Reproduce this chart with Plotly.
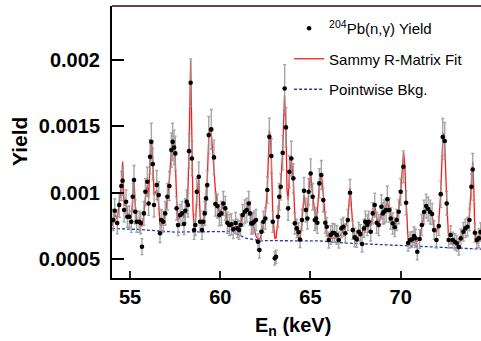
import numpy as np
import plotly.graph_objects as go

# ---- data (energy in keV, yields in units of 1e-3) ----
energy = [
    54.07, 54.15, 54.29, 54.40, 54.52, 54.59, 54.67, 54.78, 54.85, 54.96,
    55.07, 55.15, 55.22, 55.29, 55.37, 55.51, 55.59, 55.66, 55.77, 55.85,
    55.96, 56.03, 56.11, 56.18, 56.26, 56.33, 56.48, 56.59, 56.66, 56.73,
    56.84, 56.95, 57.07, 57.18, 57.29, 57.36, 57.44, 57.51, 57.58, 57.66,
    57.77, 57.88, 57.99, 58.06, 58.14, 58.21, 58.27, 58.36, 58.43, 58.55,
    58.62, 58.70, 58.81, 58.88, 58.99, 59.06, 59.14, 59.21, 59.28, 59.36,
    59.50, 59.65, 59.73, 59.84, 59.95, 60.06, 60.17, 60.28, 60.39, 60.50,
    60.61, 60.72, 60.85, 60.95, 61.04, 61.13, 61.24, 61.36, 61.47, 61.58,
    61.65, 61.72, 61.80, 61.87, 61.98, 62.09, 62.17, 62.28, 62.39, 62.50,
    62.61, 62.72, 62.83, 62.91, 63.02, 63.09, 63.20, 63.27, 63.35, 63.46,
    63.57, 63.64, 63.76, 63.83, 63.94, 64.05, 64.13, 64.24, 64.34, 64.42,
    64.53, 64.64, 64.75, 64.83, 64.90, 65.01, 65.12, 65.24, 65.31, 65.38,
    65.49, 65.60, 65.71, 65.82, 65.90, 66.01, 66.12, 66.23, 66.34, 66.46,
    66.57, 66.71, 66.82, 66.93, 67.07, 67.19, 67.34, 67.45, 67.56, 67.67,
    67.77, 67.86, 67.97, 68.04, 68.15, 68.23, 68.34, 68.45, 68.56, 68.67,
    68.78, 68.93, 69.01, 69.08, 69.19, 69.26, 69.37, 69.45, 69.56, 69.67,
    69.78, 69.89, 70.00, 70.15, 70.30, 70.41, 70.52, 70.63, 70.74, 70.82,
    70.92, 71.05, 71.17, 71.29, 71.41, 71.52, 71.63, 71.74, 71.85, 71.98,
    72.11, 72.22, 72.33, 72.44, 72.55, 72.66, 72.77, 72.89, 73.00, 73.11,
    73.22, 73.33, 73.47, 73.58, 73.70, 73.81, 73.92, 73.99, 74.11, 74.22,
    74.33, 74.43,
]
yield_e3 = [
    0.794, 0.864, 0.771, 0.907, 1.050, 1.090, 0.869, 0.931, 0.819, 0.819,
    0.781, 0.969, 1.095, 0.856, 0.781, 0.781, 0.771, 0.593, 0.844, 1.007,
    1.082, 0.919, 1.270, 1.383, 1.215, 0.907, 1.057, 0.982, 0.694, 0.794,
    0.781, 0.844, 0.969, 1.050, 1.321, 1.383, 1.341, 1.296, 0.882, 0.756,
    0.831, 0.844, 0.764, 0.864, 0.931, 0.907, 1.313, 1.828, 1.258, 0.718,
    0.756, 1.007, 1.120, 0.781, 0.718, 0.781, 0.844, 0.957, 1.057, 1.434,
    1.477, 1.266, 0.914, 0.899, 0.831, 0.844, 0.919, 0.882, 0.773, 0.756,
    0.761, 0.724, 0.771, 0.731, 0.718, 0.756, 0.831, 0.856, 0.869, 0.919,
    0.844, 0.769, 0.769, 0.781, 0.794, 0.630, 0.568, 0.706, 0.781, 0.806,
    1.020, 1.421, 1.276, 0.781, 0.505, 0.517, 0.819, 0.969, 1.044, 1.300,
    1.785, 1.492, 0.882, 1.157, 1.258, 1.108, 0.769, 0.731, 0.703, 0.647,
    0.794, 1.014, 0.869, 0.806, 1.007, 1.145, 0.969, 0.794, 0.806, 0.773,
    1.070, 1.133, 0.944, 0.773, 0.743, 0.643, 0.681, 0.698, 0.694, 0.681,
    0.643, 0.731, 0.743, 0.694, 0.794, 0.999, 0.718, 0.663, 0.648, 0.706,
    0.688, 0.613, 0.731, 0.781, 0.756, 0.781, 0.706, 0.844, 0.907, 0.773,
    0.756, 0.894, 0.844, 0.856, 0.869, 0.950, 0.869, 0.806, 0.769, 0.739,
    0.794, 0.856, 1.007, 1.195, 0.924, 0.620, 0.643, 0.648, 0.673, 0.656,
    0.555, 0.651, 0.756, 0.854, 0.899, 0.877, 0.854, 0.839, 0.718, 0.643,
    0.748, 0.989, 1.419, 1.389, 0.919, 0.643, 0.681, 0.643, 0.630, 0.618,
    0.590, 0.656, 0.706, 0.731, 0.743, 0.794, 1.044, 1.175, 0.698, 0.643,
    0.656, 0.703,
]
yield_err_e3 = [
    0.08, 0.09, 0.08, 0.09, 0.11, 0.11, 0.09, 0.09, 0.08, 0.08,
    0.08, 0.10, 0.11, 0.09, 0.08, 0.08, 0.08, 0.06, 0.09, 0.10,
    0.11, 0.09, 0.13, 0.14, 0.12, 0.09, 0.11, 0.10, 0.07, 0.08,
    0.08, 0.09, 0.10, 0.11, 0.13, 0.14, 0.13, 0.13, 0.09, 0.08,
    0.08, 0.09, 0.08, 0.09, 0.09, 0.09, 0.13, 0.18, 0.13, 0.07,
    0.08, 0.10, 0.11, 0.08, 0.07, 0.08, 0.09, 0.10, 0.11, 0.14,
    0.15, 0.13, 0.09, 0.09, 0.08, 0.09, 0.09, 0.09, 0.08, 0.08,
    0.08, 0.07, 0.08, 0.07, 0.07, 0.08, 0.08, 0.09, 0.09, 0.09,
    0.09, 0.08, 0.08, 0.08, 0.08, 0.06, 0.06, 0.07, 0.08, 0.08,
    0.10, 0.14, 0.13, 0.08, 0.05, 0.05, 0.08, 0.10, 0.10, 0.13,
    0.18, 0.15, 0.09, 0.12, 0.13, 0.11, 0.08, 0.07, 0.07, 0.06,
    0.08, 0.10, 0.09, 0.08, 0.10, 0.11, 0.10, 0.08, 0.08, 0.08,
    0.11, 0.11, 0.09, 0.08, 0.07, 0.06, 0.07, 0.07, 0.07, 0.07,
    0.06, 0.07, 0.07, 0.07, 0.08, 0.10, 0.07, 0.07, 0.06, 0.07,
    0.07, 0.06, 0.07, 0.08, 0.08, 0.08, 0.07, 0.08, 0.09, 0.08,
    0.08, 0.09, 0.08, 0.09, 0.09, 0.10, 0.09, 0.08, 0.08, 0.07,
    0.08, 0.09, 0.10, 0.12, 0.09, 0.06, 0.06, 0.06, 0.07, 0.07,
    0.06, 0.07, 0.08, 0.09, 0.09, 0.09, 0.09, 0.08, 0.07, 0.06,
    0.07, 0.10, 0.14, 0.14, 0.09, 0.06, 0.07, 0.06, 0.06, 0.06,
    0.06, 0.07, 0.07, 0.07, 0.07, 0.08, 0.10, 0.12, 0.07, 0.06,
    0.07, 0.07,
]

fit_energy = [
    54.00, 54.15, 54.29, 54.40, 54.52, 54.59, 54.67, 54.78, 54.89, 55.00,
    55.07, 55.15, 55.22, 55.29, 55.38, 55.55, 55.66, 55.77, 55.85, 55.96,
    56.03, 56.11, 56.19, 56.26, 56.33, 56.48, 56.59, 56.66, 56.73, 56.84,
    56.95, 57.07, 57.18, 57.29, 57.36, 57.44, 57.51, 57.58, 57.66, 57.77,
    57.88, 57.99, 58.06, 58.14, 58.21, 58.27, 58.36, 58.43, 58.49, 58.55,
    58.62, 58.70, 58.81, 58.88, 58.99, 59.06, 59.14, 59.21, 59.28, 59.36,
    59.43, 59.50, 59.65, 59.73, 59.84, 59.95, 60.06, 60.17, 60.28, 60.39,
    60.50, 60.61, 60.72, 60.85, 60.95, 61.04, 61.13, 61.24, 61.36, 61.47,
    61.58, 61.65, 61.72, 61.80, 61.87, 61.98, 62.09, 62.20, 62.31, 62.39,
    62.50, 62.61, 62.72, 62.78, 62.83, 62.91, 63.02, 63.09, 63.20, 63.27,
    63.35, 63.46, 63.56, 63.64, 63.70, 63.76, 63.83, 63.94, 64.05, 64.13,
    64.24, 64.34, 64.42, 64.53, 64.64, 64.75, 64.83, 64.90, 65.01, 65.12,
    65.24, 65.31, 65.38, 65.49, 65.60, 65.71, 65.82, 65.90, 66.01, 66.19,
    66.41, 66.63, 66.82, 66.93, 67.07, 67.20, 67.34, 67.45, 67.56, 67.67,
    67.86, 67.97, 68.04, 68.15, 68.23, 68.34, 68.45, 68.56, 68.67, 68.78,
    68.93, 69.08, 69.26, 69.37, 69.56, 69.67, 69.78, 69.89, 70.00, 70.16,
    70.23, 70.30, 70.41, 70.63, 70.85, 71.05, 71.17, 71.29, 71.41, 71.52,
    71.63, 71.74, 71.85, 71.98, 72.11, 72.22, 72.33, 72.39, 72.44, 72.55,
    72.66, 72.85, 73.07, 73.33, 73.47, 73.58, 73.70, 73.81, 73.92, 73.99,
    74.05, 74.11, 74.22, 74.33, 74.46,
]
fit_yield_e3 = [
    0.748, 0.839, 0.801, 0.907, 1.057, 1.233, 0.907, 0.907, 0.831, 0.809,
    0.809, 0.959, 1.095, 0.907, 0.794, 0.756, 0.748, 0.839, 0.959, 1.057,
    0.959, 1.245, 1.396, 1.245, 0.982, 1.020, 0.907, 0.764, 0.748, 0.779,
    0.839, 0.959, 1.095, 1.321, 1.396, 1.358, 1.245, 0.944, 0.794, 0.824,
    0.839, 0.809, 0.854, 0.914, 1.020, 1.321, 1.998, 1.321, 0.869, 0.733,
    0.756, 0.974, 1.110, 0.831, 0.748, 0.779, 0.839, 0.944, 1.095, 1.411,
    1.486, 1.456, 1.208, 1.020, 0.907, 0.854, 0.869, 0.907, 0.869, 0.794,
    0.748, 0.741, 0.733, 0.748, 0.733, 0.733, 0.764, 0.839, 0.869, 0.884,
    0.914, 0.854, 0.779, 0.756, 0.733, 0.673, 0.651, 0.651, 0.703, 0.764,
    0.839, 1.035, 1.471, 1.411, 1.276, 0.831, 0.658, 0.658, 0.794, 0.944,
    1.057, 1.321, 1.735, 1.509, 1.020, 0.944, 1.133, 1.245, 1.095, 0.831,
    0.703, 0.658, 0.651, 0.779, 0.982, 0.884, 0.854, 1.005, 1.155, 0.974,
    0.831, 0.794, 0.854, 1.057, 1.155, 0.959, 0.756, 0.688, 0.658, 0.658,
    0.658, 0.673, 0.718, 0.733, 0.809, 1.035, 0.756, 0.673, 0.658, 0.673,
    0.703, 0.748, 0.779, 0.764, 0.779, 0.748, 0.839, 0.907, 0.809, 0.748,
    0.854, 0.869, 0.929, 0.869, 0.779, 0.748, 0.794, 0.869, 1.005, 1.306,
    1.208, 0.944, 0.640, 0.625, 0.625, 0.650, 0.748, 0.839, 0.892, 0.877,
    0.854, 0.831, 0.733, 0.703, 0.779, 1.005, 1.396, 1.449, 1.358, 0.944,
    0.640, 0.615, 0.612, 0.640, 0.718, 0.733, 0.756, 0.831, 1.057, 1.233,
    1.035, 0.703, 0.615, 0.640, 0.733,
]

bkg_energy = [54.00, 55.55, 57.49, 58.88, 60.26, 60.65, 61.37, 62.20,
              63.87, 65.53, 67.03, 68.86, 70.35, 72.18, 74.45]
bkg_yield_e3 = [0.730, 0.722, 0.703, 0.703, 0.707, 0.711, 0.658, 0.639,
                0.639, 0.636, 0.620, 0.609, 0.598, 0.587, 0.575]

x_ticks = [55, 60, 65, 70]
y_ticks = [0.0005, 0.001, 0.0015, 0.002]
y_tick_labels = ["0.0005", "0.001", "0.0015", "0.002"]

scale = 1e-3
fig = go.Figure()

fig.add_trace(go.Scatter(
    x=bkg_energy, y=np.array(bkg_yield_e3) * scale, mode="lines",
    name="Pointwise Bkg.", legendgroup="c", legendrank=3,
    line=dict(color="#2a3aa8", width=1.3, dash="3px,2px"),
))
fig.add_trace(go.Scatter(
    x=fit_energy, y=np.array(fit_yield_e3) * scale, mode="lines",
    name="Sammy R-Matrix Fit", legendgroup="b", legendrank=2,
    line=dict(color="#ff1a1a", width=1.3),
))
fig.add_trace(go.Scatter(
    x=energy, y=np.array(yield_e3) * scale, mode="markers",
    name="<sup>204</sup>Pb(n,γ) Yield", legendgroup="a", legendrank=1,
    marker=dict(color="black", size=4.6),
    error_y=dict(type="data", array=np.array(yield_err_e3) * scale,
                 color="rgba(150,150,150,0.85)", thickness=1.4, width=1.5),
))

font_b = dict(family="Liberation Sans, Arial, sans-serif", size=20,
              color="black", weight="bold")

fig.update_layout(
    width=481, height=341, autosize=False,
    margin=dict(l=112, r=0, t=6, b=63, pad=0),
    paper_bgcolor="white", plot_bgcolor="white",
    showlegend=True,
    legend=dict(x=0.48, y=0.978, xanchor="left", yanchor="top",
                bgcolor="rgba(0,0,0,0)", tracegroupgap=8,
                font=dict(family="Liberation Sans, Arial, sans-serif",
                          size=15, color="black")),
    xaxis=dict(range=[54.0, 74.45], tickvals=x_ticks, ticks="inside",
               ticklen=7, tickwidth=1.5, tickcolor="#222",
               showline=True, linewidth=2, linecolor="black",
               showgrid=False, zeroline=False, tickfont=font_b),
    yaxis=dict(range=[0.000357, 0.002407], tickvals=y_ticks,
               ticktext=y_tick_labels, ticks="inside", ticklen=12,
               tickwidth=2, tickcolor="black", showline=True, linewidth=2,
               linecolor="black", showgrid=False, zeroline=False,
               tickfont=font_b, ticklabelstandoff=6),
    shapes=[dict(type="line", xref="paper", yref="paper", x0=0, x1=1,
                 y0=1, y1=1, line=dict(color="#6b4040", width=2))],
    annotations=[
        dict(text="Yield", xref="paper", yref="paper", x=-0.252, y=0.5,
             textangle=-90, showarrow=False, xanchor="center",
             yanchor="middle", font=dict(font_b, size=21)),
        dict(text="E<sub>n</sub> (keV)", xref="paper", yref="paper",
             x=0.49, y=-0.18, showarrow=False, xanchor="center",
             yanchor="middle", font=font_b),
    ],
)

fig.write_html(
    "out.html",
    config={"displayModeBar": False},
    post_script="document.body.style.margin='0';"
                "document.body.style.overflow='hidden';",
)
